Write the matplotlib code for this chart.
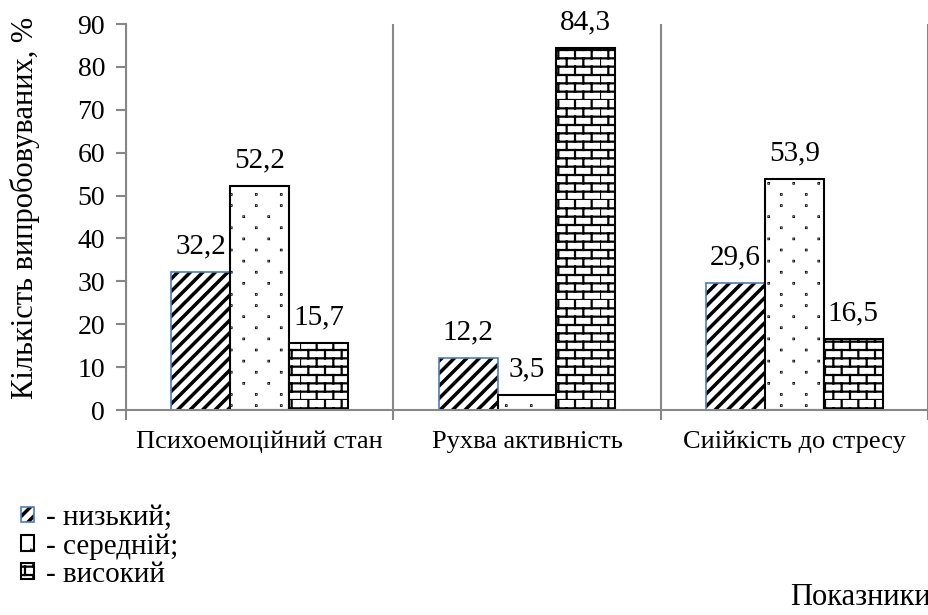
import numpy as np
import matplotlib
matplotlib.use("Agg")
import matplotlib.pyplot as plt
from matplotlib import hatch as mhatch
from matplotlib.path import Path
from matplotlib.patches import Patch
from matplotlib.legend_handler import HandlerTuple

categories = ["Психоемоційний стан", "Рухва активність", "Сиійкість до стресу"]
low = [32.2, 12.2, 29.6]
mid = [52.2, 3.5, 53.9]
high = [15.7, 84.3, 16.5]
labels = ["- низький;", "- середній;", "- високий"]


# custom hatches: '/' = thick stripes, '.' = sparse staggered dots, '-' = bricks
class Stripes(mhatch.HatchPatternBase):
    def __init__(self, hatch, density):
        self.n = 16 if "/" in hatch else 0
        self.num_vertices = (self.n + 1) * 5 if self.n else 0

    def set_vertices_and_codes(self, vertices, codes):
        d = 0.009
        out = []
        for st in np.linspace(-0.5, 0.5, self.n + 1):
            out.append([[st - d, -st], [1 + st - d, 1 - st], [1 + st + d, 1 - st],
                        [st + d, -st], [st - d, -st]])
        vertices[:] = np.array(out, dtype=float).reshape(-1, 2)
        cd = [Path.MOVETO, Path.LINETO, Path.LINETO, Path.LINETO, Path.CLOSEPOLY]
        codes[:] = np.tile(cd, self.n + 1)


class Dots(mhatch.HatchPatternBase):
    def __init__(self, hatch, density):
        self.on = "." in hatch
        self.rows, self.cols = 9, 4
        self.num_vertices = self.rows * self.cols * 5 if self.on else 0

    def set_vertices_and_codes(self, vertices, codes):
        s = 0.002
        sq = np.array([[-s, -s], [s, -s], [s, s], [-s, s], [-s, -s]])
        out = []
        for r in range(self.rows):
            y = (r + 0.5) / self.rows
            off = 0.0 if r % 2 == 0 else 0.5 / self.cols
            for c in range(self.cols):
                out.append(sq + [off + (c + 0.25) / self.cols, y])
        vertices[:] = np.concatenate(out)
        cd = [Path.MOVETO, Path.LINETO, Path.LINETO, Path.LINETO, Path.CLOSEPOLY]
        codes[:] = np.tile(cd, self.rows * self.cols)


class Bricks(mhatch.HatchPatternBase):
    def __init__(self, hatch, density):
        self.on = "-" in hatch
        self.rows, self.cols = 12, 6
        self.num_vertices = (self.rows + self.rows * self.cols) * 2 if self.on else 0

    def set_vertices_and_codes(self, vertices, codes):
        h, w = 1.0 / self.rows, 1.0 / self.cols
        segs = []
        for r in range(self.rows):
            y0 = r * h
            segs.append([[0, y0], [1, y0]])
            off = 0.0 if r % 2 == 0 else w / 2
            for c in range(self.cols):
                segs.append([[off + c * w, y0], [off + c * w, y0 + h]])
        vertices[:] = np.array(segs, dtype=float).reshape(-1, 2)
        codes[0::2] = Path.MOVETO
        codes[1::2] = Path.LINETO


mhatch._hatch_types[:] = [Stripes, Dots, Bricks]

plt.rcParams["font.family"] = ["Liberation Serif", "DejaVu Serif"]
plt.rcParams["hatch.linewidth"] = 1.6

fig = plt.figure(figsize=(9.29, 6.15), dpi=100)
ax = fig.add_axes([126 / 929, 1 - 410 / 615, 802 / 929, 386 / 615])

x = np.arange(len(categories))
w = 0.22
gray = "#878787"
blue = "#4A7EBB"

ax.bar(x - w, low, w, color="white", edgecolor="black", linewidth=0, hatch="/")
ax.bar(x - w, low, w, fill=False, edgecolor=blue, linewidth=1.2)
ax.bar(x, mid, w, color="white", edgecolor="black", linewidth=1.5, hatch=".")
ax.bar(x + w, high, w, color="white", edgecolor="black", linewidth=1.5, hatch="-")

for xs, vals in [(x - w, low), (x, mid), (x + w, high)]:
    for xi, v in zip(xs, vals):
        ax.annotate(f"{v:.1f}".replace(".", ","), (xi, v), xytext=(0, 13.5),
                    textcoords="offset points", ha="center", va="baseline", fontsize=21)

ax.set_xlim(-0.5, len(categories) - 0.5)
ax.set_ylim(0, 90)
ax.set_yticks(np.arange(0, 91, 10))
ax.set_xticks(x)
ax.set_xticklabels(categories, fontsize=19)
ax.set_xticks(np.arange(-0.5, len(categories)), minor=True)
ax.tick_params(axis="x", which="major", length=0, pad=15)
ax.tick_params(axis="x", which="minor", length=7, width=1.5, color=gray, direction="out")
ax.tick_params(axis="y", length=7, width=1.5, color=gray, direction="out", labelsize=20, pad=8)
ax.grid(axis="x", which="minor", color=gray, linewidth=1.5)
ax.set_axisbelow(True)
for s in ["top", "right"]:
    ax.spines[s].set_visible(False)
for s in ["left", "bottom"]:
    ax.spines[s].set_color(gray)
    ax.spines[s].set_linewidth(1.5)

ax.set_ylabel("Кількість випробовуваних, %", fontsize=22)
ax.yaxis.set_label_coords(-86 / 802, 0.523)

h1 = (Patch(facecolor="white", edgecolor="black", linewidth=0, hatch="/"),
      Patch(fill=False, edgecolor=blue, linewidth=1.2))
h2 = Patch(facecolor="white", edgecolor="black", linewidth=1.5, hatch=".")
h3 = Patch(facecolor="white", edgecolor="black", linewidth=1.5, hatch="-")
fig.legend([h1, h2, h3], labels, loc="upper left", bbox_to_anchor=(21 / 929, 1 - 505 / 615),
           frameon=False, handlelength=0.45, handleheight=0.45, handletextpad=0.4,
           labelspacing=0.07, borderpad=0, borderaxespad=0,
           handler_map={tuple: HandlerTuple(ndivide=1, pad=0)},
           prop={"family": "Liberation Serif", "size": 21})

fig.text(790 / 929, 1 - 605 / 615, "Показники", fontsize=22, va="baseline", ha="left")

fig.savefig("out.png", dpi=100)
